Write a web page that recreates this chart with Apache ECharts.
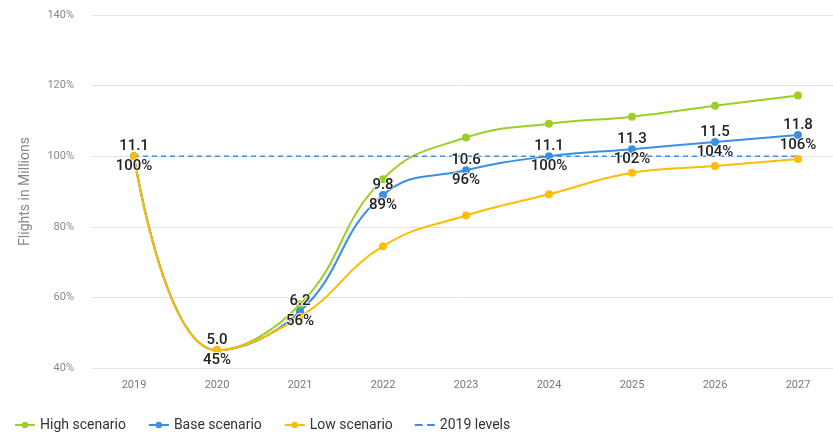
<!DOCTYPE html>
<html>
<head>
<meta charset="utf-8">
<script src="https://cdn.jsdelivr.net/npm/echarts@6/dist/echarts.min.js"></script>
<style>html,body{margin:0;padding:0;background:#fff;}#c{width:833px;height:432px;}</style>
</head>
<body>
<div id="c"></div>
<script>
const years = ['2019','2020','2021','2022','2023','2024','2025','2026','2027'];
const highScenario = [100, 45, 58, 93.5, 105.3, 109.2, 111.2, 114.3, 117.2];
const baseScenario = [100, 45, 56, 89, 96, 100, 102, 104, 106];
const lowScenario = [100, 45, 54.5, 74.5, 83.2, 89.2, 95.3, 97.2, 99.2];
const levels2019 = [100, 100, 100, 100, 100, 100, 100, 100, 100];
const baseMillions = ['11.1', '5.0', '6.2', '9.8', '10.6', '11.1', '11.3', '11.5', '11.8'];
const yTicks = { min: 40, max: 140, interval: 20 };

const chart = echarts.init(document.getElementById('c'), null, { renderer: 'canvas' });
const lineSeries = (name, data, color, extra) => Object.assign({
  name, type: 'line', data, smooth: 0.45,
  xAxisIndex: 1, yAxisIndex: 1,
  symbol: 'circle', symbolSize: 8,
  itemStyle: { color },
  lineStyle: { color, width: 2 },
  emphasis: { disabled: true }
}, extra || {});

chart.setOption({
  animation: false,
  grid: [
    { left: 92, right: 0, top: 15, bottom: 64, containLabel: false },
    { left: 134, right: 35, top: 15, bottom: 64, containLabel: false }
  ],
  legend: {
    top: 413, left: 9, itemGap: 22, itemWidth: 20, itemHeight: 8,
    textStyle: { color: '#333', fontSize: 14, fontFamily: 'Roboto' },
    data: [
      { name: 'High scenario' },
      { name: 'Base scenario' },
      { name: 'Low scenario' },
      { name: '2019 levels', icon: 'path://M0,0h7v2h-7z M11,0h7v2h-7z' }
    ]
  },
  xAxis: [
    { type: 'category', gridIndex: 0, data: years, show: false },
    {
      type: 'category', gridIndex: 1, data: years, boundaryGap: false,
      axisLine: { show: false }, axisTick: { show: false }, splitLine: { show: false },
      axisLabel: { color: '#777', fontSize: 11, fontFamily: 'Roboto', margin: 12 }
    }
  ],
  yAxis: [
    {
      type: 'value', gridIndex: 0, min: yTicks.min, max: yTicks.max, interval: yTicks.interval,
      name: 'Flights in Millions', nameLocation: 'middle', nameGap: 60,
      nameTextStyle: { color: '#888', fontSize: 14, fontFamily: 'Roboto' },
      axisLabel: { formatter: '{value}%', color: '#888', fontSize: 11, fontFamily: 'Roboto', margin: 18 },
      splitLine: { lineStyle: { color: '#e3e3e3', width: 1 } },
      axisLine: { show: false }, axisTick: { show: false }
    },
    {
      type: 'value', gridIndex: 1, min: yTicks.min, max: yTicks.max, interval: yTicks.interval,
      show: false, splitLine: { show: false }
    }
  ],
  series: [
    lineSeries('High scenario', highScenario, '#9ccf25', { z: 2 }),
    lineSeries('Base scenario', baseScenario, '#3b8fe3', { z: 3 }),
    lineSeries('Low scenario', lowScenario, '#ffbc00', { z: 4 }),
    lineSeries('2019 levels', levels2019, '#3b8fe3', {
      smooth: false, symbol: 'none', z: 2,
      lineStyle: { color: '#3b8fe3', width: 1.5, type: [5, 4] }
    }),
    {
      name: 'labels', type: 'line', data: baseScenario, z: 10,
      xAxisIndex: 1, yAxisIndex: 1,
      symbol: 'circle', symbolSize: 1, showAllSymbol: true,
      itemStyle: { color: 'rgba(0,0,0,0)' },
      lineStyle: { opacity: 0 }, silent: true,
      label: {
        show: true, position: 'inside',
        formatter: p => baseMillions[p.dataIndex] + '\n' + Math.round(p.value) + '%',
        color: '#222', fontSize: 15, fontWeight: 500, lineHeight: 20,
        fontFamily: 'Roboto', textBorderColor: '#fff', textBorderWidth: 1.5
      }
    }
  ]
});
</script>
</body>
</html>
